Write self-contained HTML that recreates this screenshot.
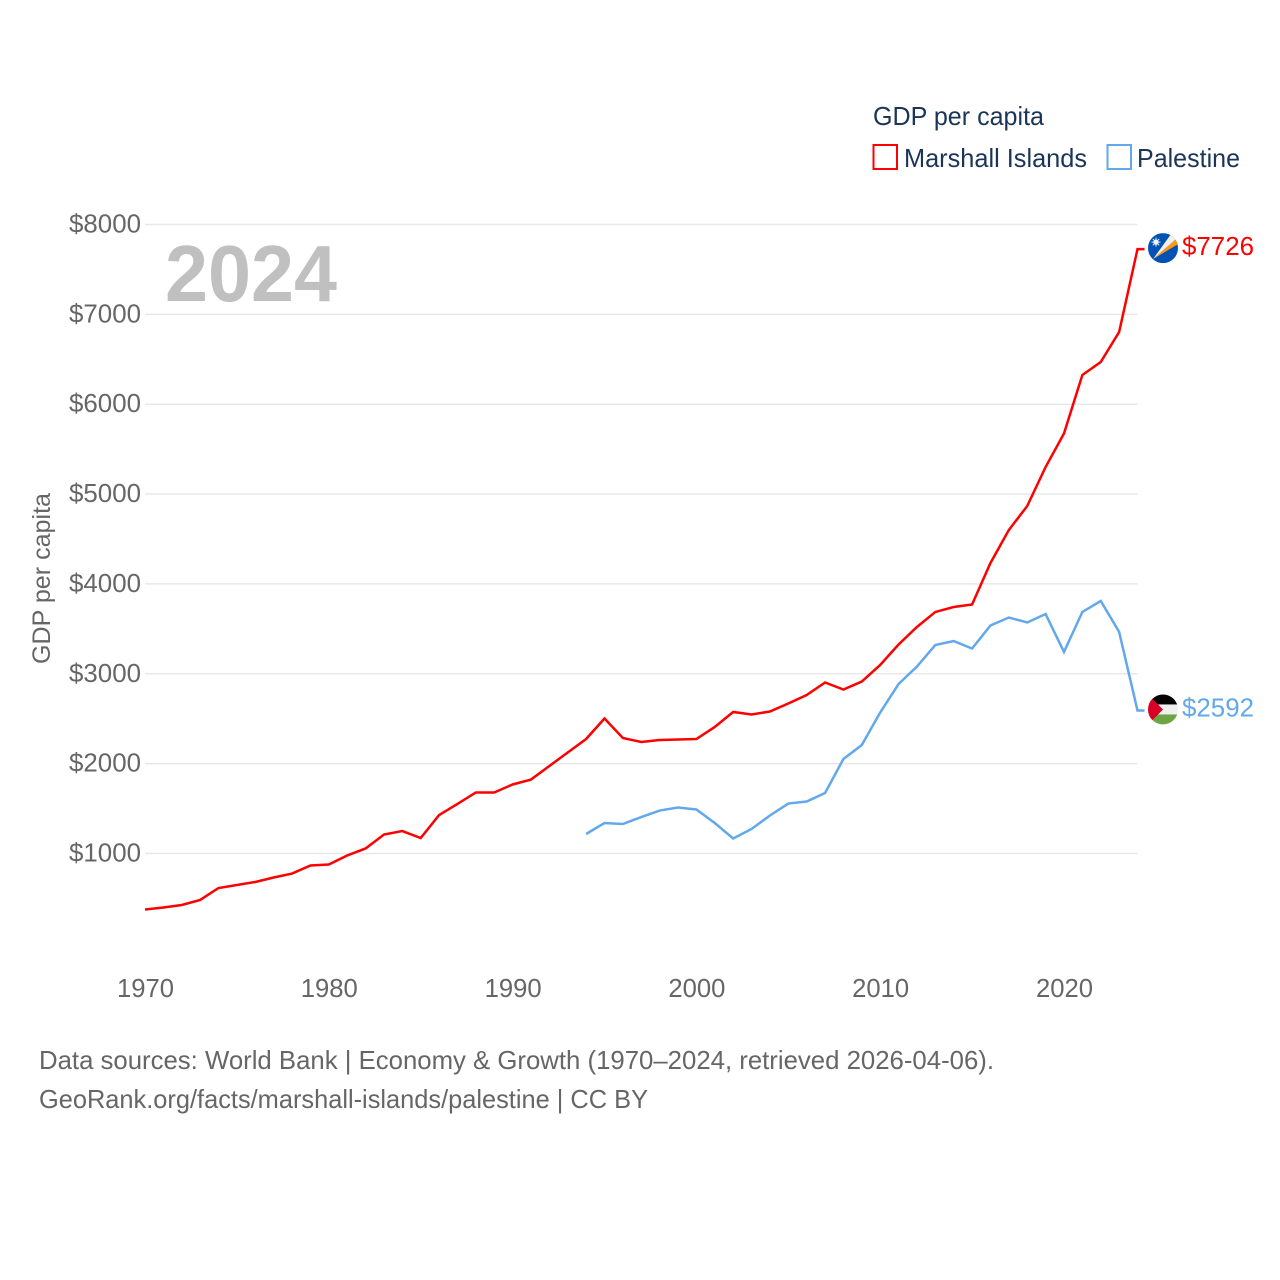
<!DOCTYPE html>
<html>
<head>
<meta charset="utf-8">
<title>GDP per capita: Marshall Islands and Palestine</title>
<style>
html,body{margin:0;padding:0;background:#fff;width:1280px;height:1280px;overflow:hidden}
svg{display:block}
text{font-family:"Liberation Sans",sans-serif}
</style>
</head>
<body>
<svg id="chart" width="1280" height="1280" viewBox="0 0 1280 1280" xmlns="http://www.w3.org/2000/svg">
  <g id="grid"></g>
  <text x="165" y="301" font-size="80" font-weight="700" fill="#c0c0c0" textLength="172" lengthAdjust="spacingAndGlyphs">2024</text>
  <g id="yticks"></g>
  <g id="xticks"></g>
  <text transform="translate(50,664) rotate(-90)" x="0" y="0" font-size="25" fill="#666666" textLength="171" lengthAdjust="spacingAndGlyphs">GDP per capita</text>
  <g id="series"></g>

  <g>
    <text x="873" y="125" font-size="26" fill="#1a3557" textLength="171" lengthAdjust="spacingAndGlyphs">GDP per capita</text>
    <rect x="873.5" y="145" width="23.5" height="24" fill="#fff" stroke="#ff0000" stroke-width="2"></rect>
    <text x="904" y="167" font-size="26" fill="#1a3557" textLength="183" lengthAdjust="spacingAndGlyphs">Marshall Islands</text>
    <rect x="1107.5" y="145" width="23.5" height="24" fill="#fff" stroke="#62a8ea" stroke-width="2"></rect>
    <text x="1137" y="167" font-size="26" fill="#1a3557" textLength="103" lengthAdjust="spacingAndGlyphs">Palestine</text>
  </g>

  <defs>
    <clipPath id="clip-mh" clipPathUnits="userSpaceOnUse"><circle cx="0" cy="0" r="15"></circle></clipPath>
    <clipPath id="clip-ps" clipPathUnits="userSpaceOnUse"><circle cx="0" cy="0" r="15"></circle></clipPath>
  </defs>
  <g id="flag-mh">
    <g clip-path="url(#clip-mh)">
      <rect x="-15" y="-15" width="30" height="30" fill="#0052b4"></rect>
      <polygon points="-10,11 14,-10 15,-4" fill="#ff9811"></polygon>
      <polygon points="-10,11 8,-14 14,-10" fill="#f0f0f0"></polygon>
    </g>
    <circle cx="-7" cy="-6" r="2.6" fill="#f0f0f0"></circle>
    <path d="M-7-10.5V-1.5M-11.5-6H-2.5M-10.2-9.2-3.8-2.8M-10.2-2.8-3.8-9.2" stroke="#f0f0f0" stroke-width="1"></path>
  </g>
  <g id="flag-ps">
    <g clip-path="url(#clip-ps)">
      <rect x="-15" y="-15" width="30" height="30" fill="#f0f0f0"></rect>
      <rect x="-15" y="-15" width="30" height="10" fill="#000000"></rect>
      <rect x="-15" y="5" width="30" height="10" fill="#6da544"></rect>
      <polygon points="-15,-15 0,0 -15,15" fill="#d80027"></polygon>
    </g>
  </g>

  <g id="endlabels"></g>

  <g>
    <text x="39" y="1069" font-size="26" fill="#666666" textLength="955" lengthAdjust="spacingAndGlyphs">Data sources: World Bank | Economy &amp; Growth (1970–2024, retrieved 2026-04-06).</text>
    <text x="39" y="1108" font-size="26" fill="#666666" textLength="609" lengthAdjust="spacingAndGlyphs">GeoRank.org/facts/marshall-islands/palestine | CC BY</text>
  </g>
</svg>
<script>
const marshallStartYear = 1970;
const marshallValues = [377,399,427,483,616,649,683,733,777,866,878,978,1056,1211,1250,1172,1428,1551,1679,1679,1768,1823,1974,2124,2274,2502,2285,2241,2263,2269,2274,2408,2575,2547,2580,2669,2764,2903,2825,2914,3098,3326,3521,3688,3743,3771,4233,4600,4867,5301,5674,6325,6470,6804,7726];
const palestineStartYear = 1994;
const palestineValues = [1217,1339,1328,1406,1478,1512,1490,1339,1167,1273,1423,1556,1579,1673,2052,2207,2569,2886,3081,3320,3364,3281,3537,3626,3571,3665,3243,3688,3810,3466,2592];
const yTickValues = [1000,2000,3000,4000,5000,6000,7000,8000];
const yTickLabels = ["$1000","$2000","$3000","$4000","$5000","$6000","$7000","$8000"];
const xTickValues = [1970,1980,1990,2000,2010,2020];
const xTickLabels = ["1970","1980","1990","2000","2010","2020"];

const NS = 'http://www.w3.org/2000/svg';
const xLeft = 145, xRight = 1137.5, yearMin = 1970, yearMax = 2024;
const y1000 = 853.5, y8000 = 224.5;
function xScale(year){ return xLeft + (year - yearMin) * (xRight - xLeft) / (yearMax - yearMin); }
function yScale(v){ return y1000 + (v - 1000) * (y8000 - y1000) / 7000; }

const gridG = document.getElementById('grid');
const yG = document.getElementById('yticks');
yTickValues.forEach(function(v, i){
  const ln = document.createElementNS(NS, 'line');
  
  
  ln.setAttribute('x1', xLeft);
  ln.setAttribute('x2', xRight);
  ln.setAttribute('y1', yScale(v));
  ln.setAttribute('y2', yScale(v));
  ln.setAttribute('stroke', '#e8e8e8');
  ln.setAttribute('stroke-width', '1.5');
  gridG.appendChild(ln);
  const t = document.createElementNS(NS, 'text');
  
  
  t.setAttribute('x', 69);
  t.setAttribute('y', yScale(v) + 8);
  t.setAttribute('font-size', '25.5');
  t.setAttribute('fill', '#666666');
  t.setAttribute('textLength', '72');
  t.setAttribute('lengthAdjust', 'spacingAndGlyphs');
  t.textContent = yTickLabels[i];
  yG.appendChild(t);
});

const xG = document.getElementById('xticks');
xTickValues.forEach(function(v, i){
  const t = document.createElementNS(NS, 'text');
  
  
  t.setAttribute('x', xScale(v) - 28);
  t.setAttribute('y', 997);
  t.setAttribute('font-size', '25.5');
  t.setAttribute('fill', '#666666');
  t.setAttribute('textLength', '57');
  t.setAttribute('lengthAdjust', 'spacingAndGlyphs');
  t.textContent = xTickLabels[i];
  xG.appendChild(t);
});

function linePoints(startYear, values){
  const pts = values.map(function(v, i){
    return xScale(startYear + i).toFixed(2) + ',' + yScale(v).toFixed(2);
  });
  const last = values[values.length - 1];
  pts.push((xScale(yearMax) + 7).toFixed(2) + ',' + yScale(last).toFixed(2));
  return pts.join(' ');
}

const seriesG = document.getElementById('series');
const marshallLine = document.createElementNS(NS, 'polyline');


marshallLine.setAttribute('points', linePoints(marshallStartYear, marshallValues));
marshallLine.setAttribute('fill', 'none');
marshallLine.setAttribute('stroke', '#ff0000');
marshallLine.setAttribute('stroke-width', '2.5');
seriesG.appendChild(marshallLine);

const palestineLine = document.createElementNS(NS, 'polyline');


palestineLine.setAttribute('points', linePoints(palestineStartYear, palestineValues));
palestineLine.setAttribute('fill', 'none');
palestineLine.setAttribute('stroke', '#62a8ea');
palestineLine.setAttribute('stroke-width', '2.5');
seriesG.appendChild(palestineLine);

const marshallLast = marshallValues[marshallValues.length - 1];
const palestineLast = palestineValues[palestineValues.length - 1];
document.getElementById('flag-mh').setAttribute('transform', 'translate(1163,' + (yScale(marshallLast) - 1) + ')');
document.getElementById('flag-ps').setAttribute('transform', 'translate(1163,' + (yScale(palestineLast) - 1) + ')');

const endG = document.getElementById('endlabels');
const marshallEnd = document.createElementNS(NS, 'text');


marshallEnd.setAttribute('x', 1182);
marshallEnd.setAttribute('y', yScale(marshallLast) + 6);
marshallEnd.setAttribute('font-size', '25.5');
marshallEnd.setAttribute('fill', '#ff0000');
marshallEnd.setAttribute('textLength', '72');
marshallEnd.setAttribute('lengthAdjust', 'spacingAndGlyphs');
marshallEnd.textContent = '$' + marshallLast;
endG.appendChild(marshallEnd);

const palestineEnd = document.createElementNS(NS, 'text');


palestineEnd.setAttribute('x', 1182);
palestineEnd.setAttribute('y', yScale(palestineLast) + 6);
palestineEnd.setAttribute('font-size', '25.5');
palestineEnd.setAttribute('fill', '#62a8ea');
palestineEnd.setAttribute('textLength', '72');
palestineEnd.setAttribute('lengthAdjust', 'spacingAndGlyphs');
palestineEnd.textContent = '$' + palestineLast;
endG.appendChild(palestineEnd);
</script>
</body>
</html>
